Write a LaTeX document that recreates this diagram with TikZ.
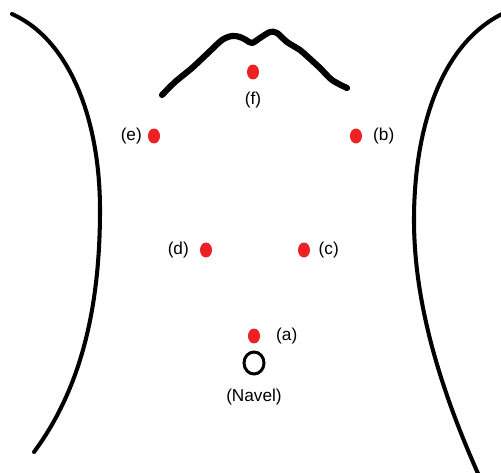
\documentclass[tikz,border=0pt]{standalone}
\usepackage{fontspec}
\setmainfont{Liberation Sans}
\usetikzlibrary{positioning,shapes.geometric}
\definecolor{sitered}{RGB}{237,32,36}
\tikzset{
  site/.style={ellipse, fill=sitered, inner sep=0pt, minimum width=0.24cm, minimum height=0.30cm},
  tag/.style={inner sep=0pt, font=\fontsize{9.8}{11}\selectfont},
  body/.style={line width=2.3pt, line cap=round},
  neck/.style={line width=3.5pt, line cap=round, line join=round},
  navel/.style={ellipse, draw, line width=1.7pt, inner sep=0pt, minimum width=0.40cm, minimum height=0.44cm},
}

\begin{document}
\begin{tikzpicture}[x=0.02cm, y=-0.02cm]
    \clip (0,0) rectangle (501,473);
    % flanks of the torso
    \draw[body] (12,14) .. controls (70,40) and (100,120) .. (100,210)
                        .. controls (100,310) and (80,390) .. (34,452);
    \draw[body] (502,14) .. controls (440,45) and (414,130) .. (414,220)
                         .. controls (414,310) and (445,400) .. (480,478);
    % collar line
    \draw[neck] plot[smooth, tension=0.5] coordinates {(162,95) (175,82) (192,68) (208,53) (222,40) (232,36) (240,37) (246,40) (252,43) (260,38) (270,32) (277,33) (287,42) (300,50) (308,57) (320,68) (332,80) (347,88)};
    % measuring sites
    \node[site] (f) at (253,72) {};
    \node[site] (e) at (154,136) {};
    \node[site] (b) at (356,136) {};
    \node[site] (d) at (206,250) {};
    \node[site] (c) at (304,250) {};
    \node[site] (a) at (254,336) {};
    \node[navel] (n) at (254,363) {};
    \node[tag, below=0.23cm of f] (fl) {(f)};
    \node[tag, left=0.11cm of e] (el) {(e)};
    \node[tag, right=0.21cm of b] (bl) {(b)};
    \node[tag, left=0.21cm of d] (dl) {(d)};
    \node[tag, right=0.16cm of c] (cl) {(c)};
    \node[tag, right=0.31cm of a] (al) {(a)};
    \node[tag, below=0.27cm of n] (nl) {(Navel)};
\end{tikzpicture}
\end{document}
